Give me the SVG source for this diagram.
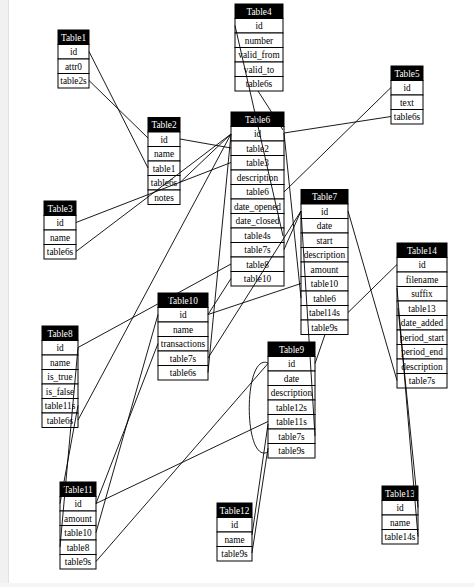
<svg xmlns="http://www.w3.org/2000/svg" width="474" height="587" viewBox="0 0 474 587">
<style>
.hd{fill:#000;stroke:#000;stroke-width:1}
.c{fill:#fff;stroke:#000;stroke-width:1}
text{font-family:"Liberation Serif","Times New Roman",serif;font-size:9.3px;text-anchor:middle;fill:#000}
.ht{fill:#fff}
.e{stroke:#000;stroke-width:0.9;fill:none}
</style>
<rect x="0" y="0" width="474" height="587" fill="#fff"/>
<rect x="0" y="0" width="8" height="587" fill="#f1f1f1"/>
<line x1="8.5" y1="0" x2="8.5" y2="587" stroke="#e2e2e2"/>
<rect x="0" y="583" width="474" height="4" fill="#f5f5f5"/>

<g id="Table1">
<rect class="hd" x="58" y="30" width="31" height="14.5"/><text class="ht" x="73.5" y="40.6">Table1</text>
<rect class="c" x="58" y="44.5" width="31" height="14.5"/><text x="73.5" y="55.1">id</text>
<rect class="c" x="58" y="59" width="31" height="14.5"/><text x="73.5" y="69.6">attr0</text>
<rect class="c" x="58" y="73.5" width="31" height="14.5"/><text x="73.5" y="84.1">table2s</text>
</g>

<g id="Table2">
<rect class="hd" x="148" y="117.5" width="32" height="14.5"/><text class="ht" x="164" y="128.1">Table2</text>
<rect class="c" x="148" y="132" width="32" height="14.5"/><text x="164" y="142.6">id</text>
<rect class="c" x="148" y="146.5" width="32" height="14.5"/><text x="164" y="157.1">name</text>
<rect class="c" x="148" y="161" width="32" height="14.5"/><text x="164" y="171.6">table1</text>
<rect class="c" x="148" y="175.5" width="32" height="14.5"/><text x="164" y="186.1">table6s</text>
<rect class="c" x="148" y="190" width="32" height="14.5"/><text x="164" y="200.6">notes</text>
</g>

<g id="Table3">
<rect class="hd" x="44" y="201" width="32" height="14.5"/><text class="ht" x="60" y="211.6">Table3</text>
<rect class="c" x="44" y="215.5" width="32" height="14.5"/><text x="60" y="226.1">id</text>
<rect class="c" x="44" y="230" width="32" height="14.5"/><text x="60" y="240.6">name</text>
<rect class="c" x="44" y="244.5" width="32" height="14.5"/><text x="60" y="255.1">table6s</text>
</g>

<g id="Table4">
<rect class="hd" x="235" y="4" width="48" height="14.5"/><text class="ht" x="259" y="14.6">Table4</text>
<rect class="c" x="235" y="18.5" width="48" height="14.5"/><text x="259" y="29.1">id</text>
<rect class="c" x="235" y="33" width="48" height="14.5"/><text x="259" y="43.6">number</text>
<rect class="c" x="235" y="47.5" width="48" height="14.5"/><text x="259" y="58.1">valid_from</text>
<rect class="c" x="235" y="62" width="48" height="14.5"/><text x="259" y="72.6">valid_to</text>
<rect class="c" x="235" y="76.5" width="48" height="14.5"/><text x="259" y="87.1">table6s</text>
</g>

<g id="Table5">
<rect class="hd" x="391" y="66" width="32" height="14.5"/><text class="ht" x="407" y="76.6">Table5</text>
<rect class="c" x="391" y="80.5" width="32" height="14.5"/><text x="407" y="91.1">id</text>
<rect class="c" x="391" y="95" width="32" height="14.5"/><text x="407" y="105.6">text</text>
<rect class="c" x="391" y="109.5" width="32" height="14.5"/><text x="407" y="120.1">table6s</text>
</g>

<g id="Table6">
<rect class="hd" x="231" y="112" width="53" height="14.5"/><text class="ht" x="257.5" y="122.6">Table6</text>
<rect class="c" x="231" y="126.5" width="53" height="14.5"/><text x="257.5" y="137.1">id</text>
<rect class="c" x="231" y="141" width="53" height="14.5"/><text x="257.5" y="151.6">table2</text>
<rect class="c" x="231" y="155.5" width="53" height="14.5"/><text x="257.5" y="166.1">table3</text>
<rect class="c" x="231" y="170" width="53" height="14.5"/><text x="257.5" y="180.6">description</text>
<rect class="c" x="231" y="184.5" width="53" height="14.5"/><text x="257.5" y="195.1">table6</text>
<rect class="c" x="231" y="199" width="53" height="14.5"/><text x="257.5" y="209.6">date_opened</text>
<rect class="c" x="231" y="213.5" width="53" height="14.5"/><text x="257.5" y="224.1">date_closed</text>
<rect class="c" x="231" y="228" width="53" height="14.5"/><text x="257.5" y="238.6">table4s</text>
<rect class="c" x="231" y="242.5" width="53" height="14.5"/><text x="257.5" y="253.1">table7s</text>
<rect class="c" x="231" y="257" width="53" height="14.5"/><text x="257.5" y="267.6">table8</text>
<rect class="c" x="231" y="271.5" width="53" height="14.5"/><text x="257.5" y="282.1">table10</text>
</g>

<g id="Table7">
<rect class="hd" x="301" y="189.5" width="47" height="14.5"/><text class="ht" x="324.5" y="200.1">Table7</text>
<rect class="c" x="301" y="204" width="47" height="14.5"/><text x="324.5" y="214.6">id</text>
<rect class="c" x="301" y="218.5" width="47" height="14.5"/><text x="324.5" y="229.1">date</text>
<rect class="c" x="301" y="233" width="47" height="14.5"/><text x="324.5" y="243.6">start</text>
<rect class="c" x="301" y="247.5" width="47" height="14.5"/><text x="324.5" y="258.1">description</text>
<rect class="c" x="301" y="262" width="47" height="14.5"/><text x="324.5" y="272.6">amount</text>
<rect class="c" x="301" y="276.5" width="47" height="14.5"/><text x="324.5" y="287.1">table10</text>
<rect class="c" x="301" y="291" width="47" height="14.5"/><text x="324.5" y="301.6">table6</text>
<rect class="c" x="301" y="305.5" width="47" height="14.5"/><text x="324.5" y="316.1">tabel14s</text>
<rect class="c" x="301" y="320" width="47" height="14.5"/><text x="324.5" y="330.6">table9s</text>
</g>

<g id="Table8">
<rect class="hd" x="42" y="326" width="36" height="14.5"/><text class="ht" x="60" y="336.6">Table8</text>
<rect class="c" x="42" y="340.5" width="36" height="14.5"/><text x="60" y="351.1">id</text>
<rect class="c" x="42" y="355" width="36" height="14.5"/><text x="60" y="365.6">name</text>
<rect class="c" x="42" y="369.5" width="36" height="14.5"/><text x="60" y="380.1">is_true</text>
<rect class="c" x="42" y="384" width="36" height="14.5"/><text x="60" y="394.6">is_false</text>
<rect class="c" x="42" y="398.5" width="36" height="14.5"/><text x="60" y="409.1">table11s</text>
<rect class="c" x="42" y="413" width="36" height="14.5"/><text x="60" y="423.6">table6s</text>
</g>

<g id="Table9">
<rect class="hd" x="268" y="342" width="47" height="14.5"/><text class="ht" x="291.5" y="352.6">Table9</text>
<rect class="c" x="268" y="356.5" width="47" height="14.5"/><text x="291.5" y="367.1">id</text>
<rect class="c" x="268" y="371" width="47" height="14.5"/><text x="291.5" y="381.6">date</text>
<rect class="c" x="268" y="385.5" width="47" height="14.5"/><text x="291.5" y="396.1">description</text>
<rect class="c" x="268" y="400" width="47" height="14.5"/><text x="291.5" y="410.6">table12s</text>
<rect class="c" x="268" y="414.5" width="47" height="14.5"/><text x="291.5" y="425.1">table11s</text>
<rect class="c" x="268" y="429" width="47" height="14.5"/><text x="291.5" y="439.6">table7s</text>
<rect class="c" x="268" y="443.5" width="47" height="14.5"/><text x="291.5" y="454.1">table9s</text>
</g>

<g id="Table10">
<rect class="hd" x="158" y="293" width="50" height="14.5"/><text class="ht" x="183" y="303.6">Table10</text>
<rect class="c" x="158" y="307.5" width="50" height="14.5"/><text x="183" y="318.1">id</text>
<rect class="c" x="158" y="322" width="50" height="14.5"/><text x="183" y="332.6">name</text>
<rect class="c" x="158" y="336.5" width="50" height="14.5"/><text x="183" y="347.1">transactions</text>
<rect class="c" x="158" y="351" width="50" height="14.5"/><text x="183" y="361.6">table7s</text>
<rect class="c" x="158" y="365.5" width="50" height="14.5"/><text x="183" y="376.1">table6s</text>
</g>

<g id="Table11">
<rect class="hd" x="60" y="482" width="36" height="14.5"/><text class="ht" x="78" y="492.6">Table11</text>
<rect class="c" x="60" y="496.5" width="36" height="14.5"/><text x="78" y="507.1">id</text>
<rect class="c" x="60" y="511" width="36" height="14.5"/><text x="78" y="521.6">amount</text>
<rect class="c" x="60" y="525.5" width="36" height="14.5"/><text x="78" y="536.1">table10</text>
<rect class="c" x="60" y="540" width="36" height="14.5"/><text x="78" y="550.6">table8</text>
<rect class="c" x="60" y="554.5" width="36" height="14.5"/><text x="78" y="565.1">table9s</text>
</g>

<g id="Table12">
<rect class="hd" x="217" y="503" width="35" height="14.5"/><text class="ht" x="234.5" y="513.6">Table12</text>
<rect class="c" x="217" y="517.5" width="35" height="14.5"/><text x="234.5" y="528.1">id</text>
<rect class="c" x="217" y="532" width="35" height="14.5"/><text x="234.5" y="542.6">name</text>
<rect class="c" x="217" y="546.5" width="35" height="14.5"/><text x="234.5" y="557.1">table9s</text>
</g>

<g id="Table13">
<rect class="hd" x="382" y="486" width="36" height="14.5"/><text class="ht" x="400" y="496.6">Table13</text>
<rect class="c" x="382" y="500.5" width="36" height="14.5"/><text x="400" y="511.1">id</text>
<rect class="c" x="382" y="515" width="36" height="14.5"/><text x="400" y="525.6">name</text>
<rect class="c" x="382" y="529.5" width="36" height="14.5"/><text x="400" y="540.1">table14s</text>
</g>

<g id="Table14">
<rect class="hd" x="397" y="243" width="50" height="14.5"/><text class="ht" x="422" y="253.6">Table14</text>
<rect class="c" x="397" y="257.5" width="50" height="14.5"/><text x="422" y="268.1">id</text>
<rect class="c" x="397" y="272" width="50" height="14.5"/><text x="422" y="282.6">filename</text>
<rect class="c" x="397" y="286.5" width="50" height="14.5"/><text x="422" y="297.1">suffix</text>
<rect class="c" x="397" y="301" width="50" height="14.5"/><text x="422" y="311.6">table13</text>
<rect class="c" x="397" y="315.5" width="50" height="14.5"/><text x="422" y="326.1">date_added</text>
<rect class="c" x="397" y="330" width="50" height="14.5"/><text x="422" y="340.6">period_start</text>
<rect class="c" x="397" y="344.5" width="50" height="14.5"/><text x="422" y="355.1">period_end</text>
<rect class="c" x="397" y="359" width="50" height="14.5"/><text x="422" y="369.6">description</text>
<rect class="c" x="397" y="373.5" width="50" height="14.5"/><text x="422" y="384.1">table7s</text>
</g>

<g id="connectors" class="e">
<line x1="89" y1="51.5" x2="148" y2="168"/>
<line x1="89" y1="80.5" x2="148" y2="138"/>
<line x1="180" y1="139" x2="231" y2="148"/>
<line x1="180" y1="182.5" x2="231" y2="134"/>
<line x1="76" y1="222.5" x2="231" y2="162.5"/>
<line x1="76" y1="251.5" x2="231" y2="134"/>
<line x1="258" y1="91" x2="283" y2="130"/>
<line x1="235" y1="25.5" x2="283" y2="236"/>
<line x1="391" y1="116.5" x2="284" y2="133"/>
<line x1="391" y1="87.5" x2="284" y2="192"/>
<line x1="301" y1="211" x2="284" y2="249.5"/>
<line x1="301" y1="211" x2="208" y2="358"/>
<line x1="301" y1="211" x2="315" y2="436"/>
<line x1="301" y1="298" x2="284" y2="133"/>
<line x1="301" y1="283.5" x2="208" y2="314.5"/>
<line x1="231" y1="278.5" x2="208" y2="314.5"/>
<line x1="231" y1="264" x2="78" y2="347.5"/>
<line x1="231" y1="134" x2="78" y2="420"/>
<line x1="231" y1="134" x2="208" y2="372.5"/>
<line x1="348" y1="211" x2="397" y2="380.5"/>
<line x1="348" y1="312.5" x2="397" y2="264.5"/>
<line x1="325" y1="334.5" x2="315" y2="363.5"/>
<line x1="397" y1="288" x2="418" y2="536.5"/>
<line x1="398" y1="308" x2="418" y2="507.5"/>
<line x1="268" y1="363.5" x2="96" y2="561.5"/>
<line x1="268" y1="421.5" x2="96" y2="503.5"/>
<line x1="252" y1="535" x2="268" y2="424"/>
<line x1="252" y1="553" x2="268" y2="448"/>
<path d="M268,363 C243,352 243,465 268,452"/>
<line x1="158" y1="314.5" x2="96" y2="532.5"/>
<line x1="158" y1="343.5" x2="96" y2="503.5"/>
<line x1="78" y1="347.5" x2="60" y2="547"/>
<line x1="78" y1="405.5" x2="60" y2="503.5"/>
</g>
</svg>
